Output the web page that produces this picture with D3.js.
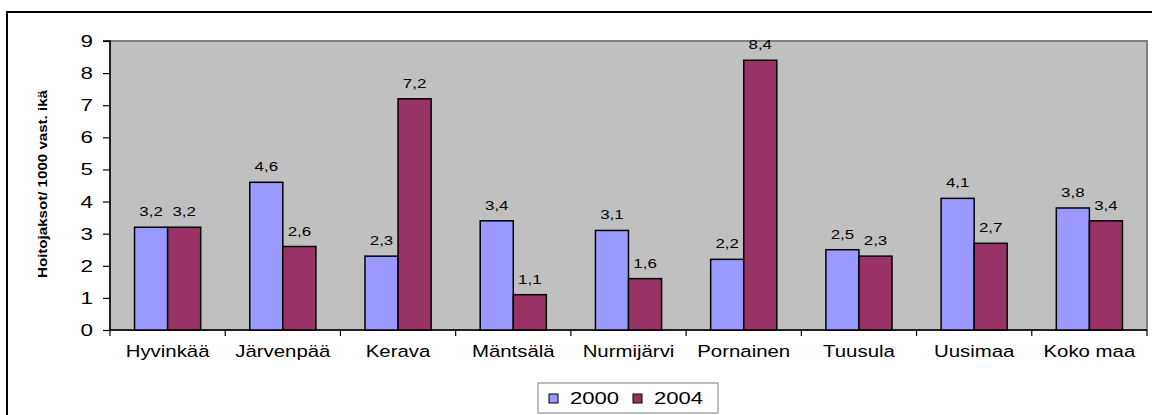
<!DOCTYPE html>
<html>
<head>
<meta charset="utf-8">
<script src="https://cdn.jsdelivr.net/npm/d3@7"></script>
<style>
  html, body { margin: 0; padding: 0; background: #ffffff; }
  svg { display: block; }
  text { font-family: "Liberation Sans", Arial, sans-serif; fill: #000; }
</style>
</head>
<body>
<svg id="chart" width="1152" height="415"></svg>
<script>
// ---- data ----
const categories = ["Hyvinkää", "Järvenpää", "Kerava", "Mäntsälä", "Nurmijärvi", "Pornainen", "Tuusula", "Uusimaa", "Koko maa"];
const values2000 = [3.2, 4.6, 2.3, 3.4, 3.1, 2.2, 2.5, 4.1, 3.8];
const values2004 = [3.2, 2.6, 7.2, 1.1, 1.6, 8.4, 2.3, 2.7, 3.4];
const seriesNames = ["2000", "2004"];
const yTicks = [0, 1, 2, 3, 4, 5, 6, 7, 8, 9];
const yTitle = "Hoitojaksot/ 1000 vast. ikä";

// ---- layout ----
const W = 1152, H = 415;
const plot = { left: 110, right: 1147, top: 41, bottom: 330 };
const colors = ["#9999ff", "#993366"];

const svg = d3.select("#chart");

// outer frame (extends past right/bottom edges)
svg.append("rect")
  .attr("x", 7).attr("y", 12)
  .attr("width", 1200).attr("height", 500)
  .attr("fill", "#ffffff").attr("stroke", "#000").attr("stroke-width", 2);

const x = d3.scaleBand().domain(categories).range([plot.left, plot.right]).paddingInner(0).paddingOuter(0);
const y = d3.scaleLinear().domain([0, 9]).range([plot.bottom, plot.top]);

// plot area
svg.append("rect")
  .attr("x", plot.left).attr("y", plot.top)
  .attr("width", plot.right - plot.left).attr("height", plot.bottom - plot.top)
  .attr("fill", "#c0c0c0").attr("stroke", "#808080").attr("stroke-width", 2);

function stretched(g, tx, ty, sx, txt, anchor, size, weight) {
  return g.append("text")
    .attr("transform", `translate(${tx},${ty}) scale(${sx},1)`)
    .attr("text-anchor", anchor)
    .attr("font-size", size)
    .attr("font-weight", weight || "normal")
    .text(txt);
}

// y axis
const yAxis = d3.axisLeft(y).tickValues(yTicks).tickSize(7).tickFormat("");
const yg = svg.append("g").attr("transform", `translate(${plot.left},0)`).call(yAxis);
yg.select(".domain").attr("stroke", "#000").attr("stroke-width", 1.5).attr("d", `M-7,${y(9)}H0V${y(0)}`);
yg.selectAll(".tick line").attr("stroke", "#000").attr("stroke-width", 1.2);
yTicks.forEach(t => {
  stretched(svg, 93, y(t) + 6, 1.4, String(t), "end", 16);
});

// x axis
const xg = svg.append("g").attr("transform", `translate(0,${plot.bottom})`);
xg.append("line").attr("x1", plot.left).attr("x2", plot.right).attr("y1", 0).attr("y2", 0)
  .attr("stroke", "#000").attr("stroke-width", 1.5);
const boundaries = categories.map(c => x(c)).concat([x(categories[categories.length - 1]) + x.bandwidth()]);
xg.selectAll("line.tk").data(boundaries).join("line")
  .attr("class", "tk")
  .attr("x1", d => d).attr("x2", d => d).attr("y1", 0).attr("y2", 6)
  .attr("stroke", "#000").attr("stroke-width", 1.2);
categories.forEach(c => {
  stretched(svg, x(c) + x.bandwidth() / 2, 357, 1.2, c, "middle", 17);
});

// bars
const bw = x.bandwidth() * 0.287;
const series = [values2000, values2004];
series.forEach((vals, si) => {
  const g = svg.append("g");
  g.selectAll("rect").data(vals).join("rect")
    .attr("x", (d, i) => x(categories[i]) + x.bandwidth() / 2 - bw + si * bw)
    .attr("y", d => y(d))
    .attr("width", bw)
    .attr("height", d => y(0) - y(d))
    .attr("fill", colors[si])
    .attr("stroke", "#000").attr("stroke-width", 1.5);
  vals.forEach((d, i) => {
    const cx = x(categories[i]) + x.bandwidth() / 2 - bw + si * bw + bw / 2;
    stretched(svg, cx, y(d) - 11, 1.3, String(d).replace(".", ","), "middle", 13);
  });
});

// y title
svg.append("text")
  .attr("transform", `translate(47,184) rotate(-90)`)
  .attr("text-anchor", "middle")
  .attr("font-size", 13)
  .attr("font-weight", "bold")
  .attr("textLength", 188)
  .attr("lengthAdjust", "spacingAndGlyphs")
  .text(yTitle);

// legend
const lg = svg.append("g");
lg.append("rect").attr("x", 538).attr("y", 383).attr("width", 180).attr("height", 30)
  .attr("fill", "#fff").attr("stroke", "#808080").attr("stroke-width", 1);
const legendX = [549, 633];
seriesNames.forEach((s, i) => {
  lg.append("rect").attr("x", legendX[i]).attr("y", 394).attr("width", 9).attr("height", 9)
    .attr("fill", colors[i]).attr("stroke", "#000").attr("stroke-width", 1);
  stretched(lg, legendX[i] + 21, 404, 1.3, s, "start", 17);
});
</script>
</body>
</html>
